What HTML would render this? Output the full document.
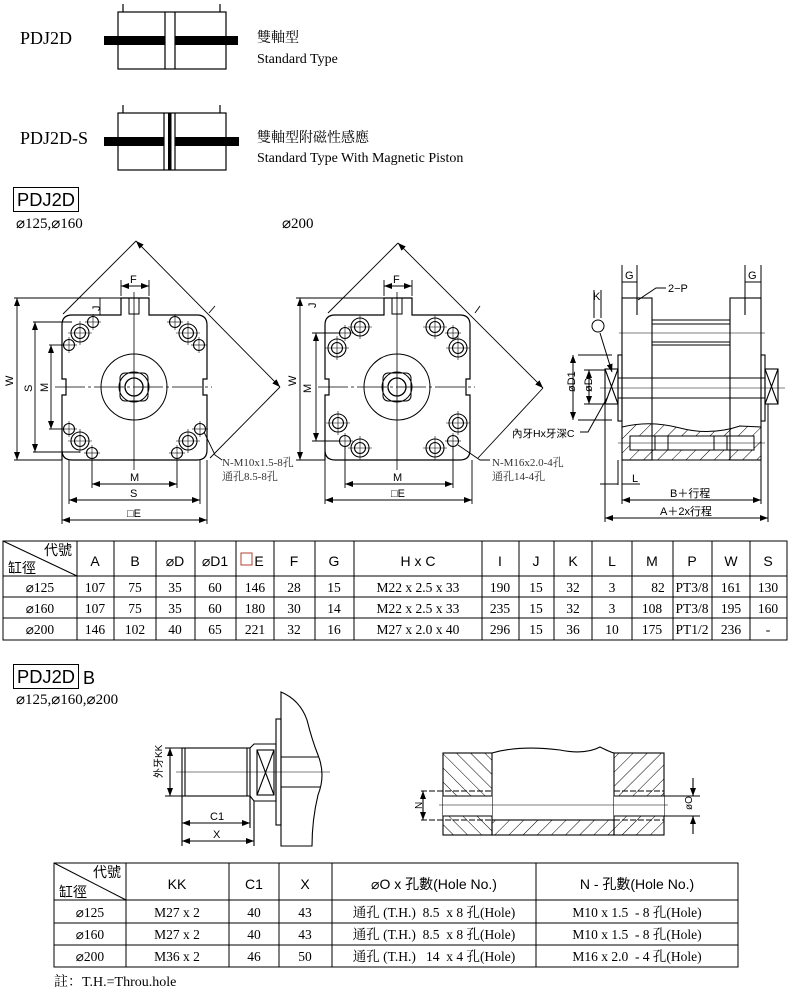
<!DOCTYPE html>
<html><head><meta charset="utf-8"><style>
html,body{margin:0;padding:0;background:#fff;}
svg{display:block;}
svg text{white-space:pre;}
.s{font-family:"Liberation Serif","Noto Serif CJK SC","Noto Sans CJK TC",serif;}
.a{font-family:"Liberation Sans","Noto Sans CJK TC",sans-serif;}
</style></head><body>
<svg width="800" height="994" viewBox="0 0 800 994" xmlns="http://www.w3.org/2000/svg">
<defs>
<pattern id="h1" patternUnits="userSpaceOnUse" width="10" height="10" patternTransform="rotate(45)"><line x1="0" y1="0" x2="0" y2="10" stroke="#000" stroke-width="1"/></pattern>
<pattern id="h2" patternUnits="userSpaceOnUse" width="10" height="10" patternTransform="rotate(-45)"><line x1="0" y1="0" x2="0" y2="10" stroke="#000" stroke-width="1"/></pattern>
<marker id="ar" markerWidth="8" markerHeight="6" refX="8" refY="3" orient="auto" markerUnits="userSpaceOnUse"><path d="M0,0 L8,3 L0,6 z" fill="#000"/></marker>
<marker id="al" markerWidth="8" markerHeight="6" refX="0" refY="3" orient="auto" markerUnits="userSpaceOnUse"><path d="M8,0 L0,3 L8,6 z" fill="#000"/></marker>
<g id="body">
<path d="M62,460 V395 h4 v-16 h-4 V325 Q62,315 72,315 H121 V298 H149 V315 H197 Q207,315 207,325 V379 h-4 v16 h4 V450 Q207,460 197,460 H72 Q62,460 62,450" fill="none" stroke="#000" stroke-width="1.2"/>
<circle cx="134" cy="387" r="33" fill="none" stroke="#000"/>
<circle cx="134" cy="387" r="15" fill="none" stroke="#000"/>
<rect x="120" y="373" width="28" height="28" rx="5" fill="none" stroke="#000"/>
<circle cx="134" cy="387" r="9" fill="none" stroke="#000" stroke-width="1.3"/>
<rect x="129" y="298" width="10" height="16" fill="none" stroke="#000"/>
<line x1="134" y1="292" x2="134" y2="470" stroke="#000" stroke-width=".8"/>
<line x1="55" y1="387" x2="212" y2="387" stroke="#000" stroke-width=".8" stroke-dasharray="30,3,3,3"/>
</g>
<g id="lh"><circle r="9" fill="none" stroke="#000" stroke-width="1.1"/><circle r="5.5" fill="none" stroke="#000" stroke-width="1.1"/><line x1="-12" x2="12" stroke="#000" stroke-width=".6"/><line y1="-12" y2="12" stroke="#000" stroke-width=".6"/></g>
<g id="sh"><circle r="5.5" fill="none" stroke="#000" stroke-width="1.1"/><line x1="-8" x2="8" stroke="#000" stroke-width=".6"/><line y1="-8" y2="8" stroke="#000" stroke-width=".6"/></g>
</defs>

<g stroke="#000" fill="none" stroke-width="1.2">
<rect x="118" y="12" width="108" height="57"/>
<line x1="165" y1="12" x2="165" y2="69"/><line x1="175" y1="12" x2="175" y2="69"/>
<line x1="123" y1="4" x2="123" y2="12"/><line x1="220" y1="4" x2="220" y2="12"/>
<rect x="118" y="113" width="108" height="57"/>
<line x1="164" y1="113" x2="164" y2="170"/><line x1="175" y1="113" x2="175" y2="170"/>
<line x1="123" y1="105" x2="123" y2="113"/><line x1="220" y1="105" x2="220" y2="113"/>
</g>
<rect x="104" y="36" width="61" height="9" fill="#000"/><rect x="175" y="36" width="63" height="9" fill="#000"/>
<rect x="104" y="137" width="60" height="9" fill="#000"/><rect x="175" y="137" width="64" height="9" fill="#000"/>
<rect x="168" y="113" width="3.5" height="57" fill="#000"/>
<text x="20" y="44" class="s" font-size="18">PDJ2D</text>
<text x="20" y="144" class="s" font-size="18">PDJ2D-S</text>
<text x="257" y="42" class="s" font-size="14">雙軸型</text>
<text x="257" y="63" class="s" font-size="14">Standard Type</text>
<text x="257" y="142" class="s" font-size="14">雙軸型附磁性感應</text>
<text x="257" y="162" class="s" font-size="14">Standard Type With Magnetic Piston</text>

<rect x="13.5" y="187.5" width="65" height="24" fill="none" stroke="#000"/>
<text x="17" y="206" class="a" font-size="18" textLength="58" lengthAdjust="spacingAndGlyphs">PDJ2D</text>
<text x="16" y="228" class="s" font-size="15">⌀125,⌀160</text>
<text x="282" y="228" class="s" font-size="15">⌀200</text>

<use href="#body"/>
<use href="#lh" x="80" y="333"/><use href="#sh" x="93" y="322"/><use href="#sh" x="69" y="345"/>
<use href="#lh" x="188" y="333"/><use href="#sh" x="175" y="322"/><use href="#sh" x="199" y="345"/>
<use href="#lh" x="80" y="441"/><use href="#sh" x="69" y="429"/><use href="#sh" x="92" y="453"/>
<use href="#lh" x="188" y="441"/><use href="#sh" x="200" y="429"/><use href="#sh" x="177" y="453"/>
<g stroke="#000" fill="none" stroke-width=".9">
<line x1="63" y1="314" x2="136" y2="241"/><line x1="136" y1="241" x2="280" y2="387" marker-start="url(#al)" marker-end="url(#ar)"/>
<line x1="280" y1="387" x2="210" y2="458"/><line x1="209" y1="313" x2="215" y2="306"/>
<line x1="121" y1="296" x2="121" y2="280"/><line x1="149" y1="296" x2="149" y2="280"/>
<line x1="121" y1="286" x2="149" y2="286" marker-start="url(#al)" marker-end="url(#ar)"/>
<line x1="14" y1="298" x2="121" y2="298"/><line x1="14" y1="460" x2="62" y2="460"/>
<line x1="17" y1="298" x2="17" y2="460" marker-start="url(#al)" marker-end="url(#ar)"/>
<line x1="100" y1="298" x2="100" y2="315" /><line x1="33" y1="322" x2="72" y2="322"/><line x1="33" y1="452" x2="80" y2="452"/>
<line x1="35" y1="322" x2="35" y2="452" marker-start="url(#al)" marker-end="url(#ar)"/>
<line x1="49" y1="345" x2="64" y2="345"/><line x1="49" y1="429" x2="64" y2="429"/>
<line x1="51" y1="345" x2="51" y2="429" marker-start="url(#al)" marker-end="url(#ar)"/>
<line x1="92" y1="460" x2="92" y2="488"/><line x1="177" y1="460" x2="177" y2="488"/>
<line x1="92" y1="484" x2="177" y2="484" marker-start="url(#al)" marker-end="url(#ar)"/>
<line x1="69" y1="460" x2="69" y2="504"/><line x1="200" y1="460" x2="200" y2="504"/>
<line x1="69" y1="500" x2="200" y2="500" marker-start="url(#al)" marker-end="url(#ar)"/>
<line x1="62" y1="460" x2="62" y2="524"/><line x1="207" y1="460" x2="207" y2="524"/>
<line x1="62" y1="520" x2="207" y2="520" marker-start="url(#al)" marker-end="url(#ar)"/>
<path d="M204,432 L215,455 L222,460"/>
</g>
<g class="a" font-size="11">
<text x="130" y="283">F</text><text x="91" y="310" transform="rotate(-90 96 306)">J</text>
<text x="4" y="383" transform="rotate(-90 10 380)">W</text>
<text x="24" y="390" transform="rotate(-90 29 387)">S</text>
<text x="40" y="390" transform="rotate(-90 45 387)">M</text>
<text x="130" y="481">M</text><text x="130" y="497">S</text><text x="127" y="517">□E</text>
</g>
<text x="222" y="466" class="s" font-size="11" fill="#333">N-M10x1.5-8孔</text>
<text x="222" y="480" class="s" font-size="11" fill="#333">通孔8.5-8孔</text>

<use href="#body" x="263"/>
<use href="#lh" x="360" y="327"/><use href="#lh" x="337" y="348"/><use href="#sh" x="345" y="333"/>
<use href="#lh" x="435" y="327"/><use href="#lh" x="458" y="348"/><use href="#sh" x="453" y="333"/>
<use href="#lh" x="338" y="423"/><use href="#lh" x="360" y="448"/><use href="#sh" x="345" y="441"/>
<use href="#lh" x="458" y="423"/><use href="#lh" x="435" y="448"/><use href="#sh" x="453" y="441"/>
<g stroke="#000" fill="none" stroke-width=".9">
<line x1="328" y1="313" x2="398" y2="243"/><line x1="398" y1="243" x2="543" y2="388" marker-start="url(#al)" marker-end="url(#ar)"/>
<line x1="543" y1="388" x2="478" y2="458"/><line x1="475" y1="313" x2="480" y2="306"/>
<line x1="384" y1="296" x2="384" y2="280"/><line x1="412" y1="296" x2="412" y2="280"/>
<line x1="384" y1="286" x2="412" y2="286" marker-start="url(#al)" marker-end="url(#ar)"/>
<line x1="296" y1="298" x2="384" y2="298"/><line x1="296" y1="460" x2="325" y2="460"/>
<line x1="300" y1="298" x2="300" y2="460" marker-start="url(#al)" marker-end="url(#ar)"/>
<line x1="312" y1="333" x2="340" y2="333"/><line x1="312" y1="441" x2="340" y2="441"/>
<line x1="316" y1="333" x2="316" y2="441" marker-start="url(#al)" marker-end="url(#ar)"/>
<line x1="345" y1="446" x2="345" y2="488"/><line x1="453" y1="446" x2="453" y2="488"/>
<line x1="345" y1="484" x2="453" y2="484" marker-start="url(#al)" marker-end="url(#ar)"/>
<line x1="325" y1="460" x2="325" y2="504"/><line x1="472" y1="460" x2="472" y2="504"/>
<line x1="325" y1="500" x2="472" y2="500" marker-start="url(#al)" marker-end="url(#ar)"/>
<path d="M458,445 L480,460 L490,460"/>
</g>
<g class="a" font-size="11">
<text x="393" y="283">F</text><text x="310" y="310" transform="rotate(-90 312 306)">J</text>
<text x="287" y="383" transform="rotate(-90 293 380)">W</text>
<text x="302" y="390" transform="rotate(-90 308 387)">M</text>
<text x="393" y="481">M</text><text x="391" y="497">□E</text>
</g>
<text x="492" y="466" class="s" font-size="11" fill="#333">N-M16x2.0-4孔</text>
<text x="492" y="480" class="s" font-size="11" fill="#333">通孔14-4孔</text>

<g stroke="#000" fill="none" stroke-width="1.1">
<rect x="622" y="298" width="30" height="162"/>
<rect x="730" y="298" width="31" height="162"/>
<line x1="637" y1="298" x2="637" y2="315"/><line x1="745" y1="298" x2="745" y2="315"/>
<line x1="652" y1="320" x2="730" y2="320"/><line x1="652" y1="324" x2="730" y2="324"/>
<line x1="652" y1="342" x2="730" y2="342"/><line x1="652" y1="345" x2="730" y2="345"/>
<line x1="619" y1="333" x2="765" y2="333" stroke-width=".6"/>
<line x1="618" y1="378" x2="765" y2="378"/><line x1="618" y1="398" x2="765" y2="398"/>
<line x1="600" y1="388" x2="785" y2="388" stroke-width=".6"/>
<rect x="618" y="355" width="4" height="66"/><rect x="761" y="355" width="4" height="66"/>
<rect x="605" y="369" width="13" height="35"/><line x1="605" y1="369" x2="618" y2="404"/><line x1="618" y1="369" x2="605" y2="404"/>
<rect x="765" y="369" width="13" height="35"/><line x1="765" y1="369" x2="778" y2="404"/><line x1="778" y1="369" x2="765" y2="404"/>
</g>
<path d="M622,427 Q650,420 680,428 T740,426 L761,427 L761,460 L622,460 Z" fill="url(#h1)" stroke="#000"/>
<rect x="630" y="436" width="124" height="14" fill="#fff" stroke="#000"/>
<g stroke="#000" fill="none">
<line x1="655" y1="436" x2="655" y2="450"/><line x1="668" y1="436" x2="668" y2="450"/><line x1="714" y1="436" x2="714" y2="450"/><line x1="727" y1="436" x2="727" y2="450"/>
<line x1="652" y1="427" x2="652" y2="460"/><line x1="730" y1="427" x2="730" y2="460"/>
<line x1="618" y1="443" x2="765" y2="443" stroke-width=".6"/>
<line x1="622" y1="265" x2="622" y2="298"/><line x1="637" y1="265" x2="637" y2="298"/>
<line x1="622" y1="282" x2="637" y2="282"/>
<line x1="745" y1="265" x2="745" y2="298"/><line x1="761" y1="265" x2="761" y2="298"/>
<line x1="745" y1="282" x2="761" y2="282"/>
<path d="M638,300 L656,288 L666,288"/>
<line x1="578" y1="355" x2="612" y2="355"/><line x1="578" y1="420" x2="612" y2="420"/>
<line x1="573" y1="355" x2="573" y2="420" marker-start="url(#al)" marker-end="url(#ar)"/>
<line x1="584" y1="370" x2="605" y2="370"/><line x1="584" y1="404" x2="605" y2="404"/>
<line x1="589" y1="370" x2="589" y2="404" marker-start="url(#al)" marker-end="url(#ar)"/>
<line x1="594" y1="290" x2="594" y2="318"/><line x1="601" y1="290" x2="601" y2="318"/>
<circle cx="598" cy="326" r="6"/>
<line x1="600" y1="333" x2="612" y2="372" marker-end="url(#ar)"/>
<path d="M580,432 L588,432 L607,398"/>
<line x1="605" y1="404" x2="605" y2="522"/><line x1="618" y1="460" x2="618" y2="485"/><line x1="622" y1="460" x2="622" y2="504"/>
<line x1="600" y1="484" x2="618" y2="484"/><line x1="622" y1="484" x2="640" y2="484"/>
<line x1="761" y1="460" x2="761" y2="504"/><line x1="768" y1="404" x2="768" y2="522"/>
<line x1="622" y1="500" x2="761" y2="500" marker-start="url(#al)" marker-end="url(#ar)"/>
<line x1="605" y1="518" x2="768" y2="518" marker-start="url(#al)" marker-end="url(#ar)"/>
</g>
<g class="a" font-size="11">
<text x="625" y="279">G</text><text x="748" y="279">G</text><text x="668" y="292">2−P</text>
<text x="593" y="300">K</text><text x="632" y="482">L</text>
<text x="567" y="392" transform="rotate(-90 571 388)">øD1</text>
<text x="584" y="392" transform="rotate(-90 588 388)">øD</text>
<text x="512" y="437" font-size="10.5">內牙Hx牙深C</text>
<text x="670" y="497">B＋行程</text><text x="660" y="515">A＋2x行程</text>
</g>

<g stroke="#000" stroke-width="1" fill="none">
<rect x="3" y="541" width="784" height="99"/>
<line x1="3" y1="576" x2="787" y2="576"/><line x1="3" y1="597" x2="787" y2="597"/><line x1="3" y1="618" x2="787" y2="618"/>
<line x1="3" y1="541" x2="77" y2="576"/>
<path d="M77,541V640M114,541V640M156,541V640M195,541V640M236,541V640M274,541V640M315,541V640M354,541V640M482,541V640M519,541V640M554,541V640M592,541V640M632,541V640M673,541V640M712,541V640M750,541V640"/>
</g>
<rect x="241" y="553" width="11" height="12" fill="none" stroke="#b04030"/>
<g class="a" font-size="14" text-anchor="middle">
<text x="58" y="555">代號</text><text x="22" y="573">缸徑</text>
<text x="95" y="566">A</text><text x="135" y="566">B</text><text x="175" y="566">⌀D</text><text x="215" y="566">⌀D1</text><text x="259" y="566">E</text>
<text x="294" y="566">F</text><text x="334" y="566">G</text><text x="418" y="566">H x C</text><text x="500" y="566">I</text><text x="536" y="566">J</text>
<text x="573" y="566">K</text><text x="612" y="566">L</text><text x="652" y="566">M</text><text x="692" y="566">P</text><text x="731" y="566">W</text><text x="768" y="566">S</text>
</g>
<g class="s" font-size="13.5" text-anchor="middle">
<text x="40" y="592">⌀125</text><text x="95" y="592">107</text><text x="135" y="592">75</text><text x="175" y="592">35</text><text x="215" y="592">60</text><text x="255" y="592">146</text><text x="294" y="592">28</text><text x="334" y="592">15</text><text x="418" y="592">M22 x 2.5 x 33</text><text x="500" y="592">190</text><text x="536" y="592">15</text><text x="573" y="592">32</text><text x="612" y="592">3</text><text x="658" y="592">82</text><text x="692" y="592">PT3/8</text><text x="731" y="592">161</text><text x="768" y="592">130</text>
<text x="40" y="613">⌀160</text><text x="95" y="613">107</text><text x="135" y="613">75</text><text x="175" y="613">35</text><text x="215" y="613">60</text><text x="255" y="613">180</text><text x="294" y="613">30</text><text x="334" y="613">14</text><text x="418" y="613">M22 x 2.5 x 33</text><text x="500" y="613">235</text><text x="536" y="613">15</text><text x="573" y="613">32</text><text x="612" y="613">3</text><text x="652" y="613">108</text><text x="692" y="613">PT3/8</text><text x="731" y="613">195</text><text x="768" y="613">160</text>
<text x="40" y="634">⌀200</text><text x="95" y="634">146</text><text x="135" y="634">102</text><text x="175" y="634">40</text><text x="215" y="634">65</text><text x="255" y="634">221</text><text x="294" y="634">32</text><text x="334" y="634">16</text><text x="418" y="634">M27 x 2.0 x 40</text><text x="500" y="634">296</text><text x="536" y="634">15</text><text x="573" y="634">36</text><text x="612" y="634">10</text><text x="652" y="634">175</text><text x="692" y="634">PT1/2</text><text x="731" y="634">236</text><text x="768" y="634">-</text>
</g>

<rect x="13.5" y="664.5" width="65" height="24" fill="none" stroke="#000"/>
<text x="17" y="683" class="a" font-size="18" textLength="58" lengthAdjust="spacingAndGlyphs">PDJ2D</text>
<text x="83" y="684" class="a" font-size="18">B</text>
<text x="16" y="704" class="s" font-size="15">⌀125,⌀160,⌀200</text>

<g stroke="#000" fill="none" stroke-width="1.1">
<rect x="182" y="748" width="68" height="48"/><line x1="185" y1="748" x2="185" y2="796"/><line x1="247" y1="748" x2="247" y2="796"/>
<path d="M250,748 L254,744 H276 V801 H254 L250,796"/><rect x="257" y="750" width="17" height="45"/>
<line x1="257" y1="750" x2="274" y2="795"/><line x1="274" y1="750" x2="257" y2="795"/>
<rect x="276" y="719" width="5" height="106"/>
<path d="M281,692 Q300,700 307,720 Q312,740 318,755 Q326,775 318,795 Q312,820 312,846 L281,846 Z"/>
<line x1="281" y1="757" x2="318" y2="757"/><line x1="281" y1="787" x2="320" y2="787"/>
<line x1="176" y1="772" x2="330" y2="772" stroke-width=".6"/>
<line x1="165" y1="748" x2="182" y2="748"/><line x1="165" y1="796" x2="182" y2="796"/>
<line x1="170" y1="748" x2="170" y2="796" marker-start="url(#al)" marker-end="url(#ar)"/>
<line x1="182" y1="796" x2="182" y2="846"/><line x1="250" y1="796" x2="250" y2="828"/><line x1="254" y1="801" x2="254" y2="846"/>
<line x1="182" y1="823" x2="250" y2="823" marker-start="url(#al)" marker-end="url(#ar)"/>
<line x1="182" y1="841" x2="254" y2="841" marker-start="url(#al)" marker-end="url(#ar)"/>
</g>
<g class="a" font-size="11">
<text x="152" y="776" transform="rotate(-90 158 772)" font-size="10">外牙KK</text>
<text x="210" y="820">C1</text><text x="213" y="838">X</text>
</g>

<g stroke="#000" fill="none" stroke-width="1.1">
<rect x="443" y="753" width="49" height="82" fill="url(#h2)"/>
<rect x="614" y="753" width="50" height="82" fill="url(#h1)"/>
<rect x="443" y="796" width="49" height="20" fill="#fff" stroke="none"/>
<rect x="614" y="796" width="50" height="20" fill="#fff" stroke="none"/>
<line x1="443" y1="796" x2="492" y2="796"/><line x1="443" y1="816" x2="492" y2="816"/>
<line x1="614" y1="796" x2="664" y2="796"/><line x1="614" y1="816" x2="664" y2="816"/>
<line x1="421" y1="791" x2="492" y2="791" stroke-dasharray="6,2"/><line x1="421" y1="820" x2="492" y2="820" stroke-dasharray="6,2"/>
<line x1="614" y1="791" x2="664" y2="791" stroke-dasharray="6,2"/><line x1="614" y1="820" x2="664" y2="820" stroke-dasharray="6,2"/>
<path d="M492,753 Q520,745 560,750 Q585,755 600,747 Q610,752 614,753"/>
<rect x="492" y="820" width="122" height="15" fill="url(#h1)"/>
<line x1="439" y1="805" x2="668" y2="805" stroke-width=".6"/>
<line x1="423" y1="791" x2="423" y2="820" marker-start="url(#al)" marker-end="url(#ar)"/>
<line x1="664" y1="796" x2="700" y2="796"/><line x1="664" y1="816" x2="700" y2="816"/>
<line x1="693" y1="778" x2="693" y2="796" marker-end="url(#ar)"/><line x1="693" y1="834" x2="693" y2="816" marker-end="url(#ar)"/>
</g>
<text x="414" y="809" class="a" font-size="10" transform="rotate(-90 418 805)">N</text>
<text x="683" y="809" class="a" font-size="10" transform="rotate(-90 688 805)">øO</text>

<g stroke="#000" stroke-width="1" fill="none">
<rect x="54" y="863" width="684" height="104"/>
<line x1="54" y1="900" x2="738" y2="900"/><line x1="54" y1="923" x2="738" y2="923"/><line x1="54" y1="945" x2="738" y2="945"/>
<line x1="54" y1="863" x2="126" y2="900"/>
<path d="M126,863V967M229,863V967M279,863V967M332,863V967M536,863V967"/>
</g>
<g class="a" font-size="14" text-anchor="middle">
<text x="107" y="877">代號</text><text x="73" y="897">缸徑</text>
<text x="177" y="889">KK</text><text x="254" y="889">C1</text><text x="305" y="889">X</text>
<text x="434" y="889">⌀O x 孔數(Hole No.)</text><text x="637" y="889">N - 孔數(Hole No.)</text>
</g>
<g class="s" font-size="13.5" text-anchor="middle">
<text x="90" y="917">⌀125</text><text x="177" y="917">M27 x 2</text><text x="254" y="917">40</text><text x="305" y="917">43</text><text x="434" y="917">通孔 (T.H.)  8.5  x 8 孔(Hole)</text><text x="637" y="917">M10 x 1.5  - 8 孔(Hole)</text>
<text x="90" y="939">⌀160</text><text x="177" y="939">M27 x 2</text><text x="254" y="939">40</text><text x="305" y="939">43</text><text x="434" y="939">通孔 (T.H.)  8.5  x 8 孔(Hole)</text><text x="637" y="939">M10 x 1.5  - 8 孔(Hole)</text>
<text x="90" y="961">⌀200</text><text x="177" y="961">M36 x 2</text><text x="254" y="961">46</text><text x="305" y="961">50</text><text x="434" y="961">通孔 (T.H.)   14  x 4 孔(Hole)</text><text x="637" y="961">M16 x 2.0  - 4 孔(Hole)</text>
</g>
<text x="54" y="986" class="s" font-size="14">註：T.H.=Throu.hole</text>
</svg>
</body></html>
